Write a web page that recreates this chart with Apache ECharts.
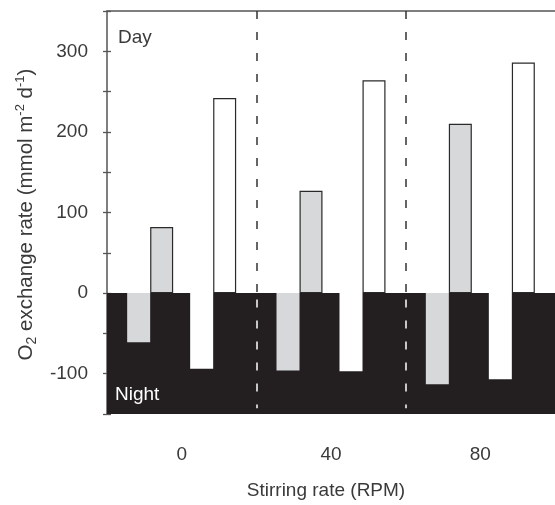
<!DOCTYPE html>
<html>
<head>
<meta charset="utf-8">
<script src="https://cdn.jsdelivr.net/npm/echarts@6/dist/echarts.min.js"></script>
<style>
  html, body { margin: 0; padding: 0; background: #fff; }
  #chart { width: 555px; height: 505px; }
</style>
</head>
<body>
<div id="chart"></div>
<script>
// stirring rate groups
var categories = ['0', '40', '80'];
// O2 exchange, grey = one treatment, white = other; night is negative
var grayNight = [-61, -96, -113];
var grayDay = [82, 127, 210];
var whiteNight = [-94, -97, -107];
var whiteDay = [242, 264, 286];
var yLabels = [300, 200, 100, 0, -100];
// boundaries between the groups (on the helper 0..3 axis)
var dividers = [1, 2];

var font = 'Liberation Sans';
var textColor = '#3a3a3a';
var axisColor = '#555';
var black = '#231f20';
var gray = '#d7d8d9';

var dashLines = [];
dividers.forEach(function (d) {
  dashLines.push([
    { coord: [d, 350], lineStyle: { color: '#333' } },
    { coord: [d, 0] }
  ]);
  dashLines.push([
    { coord: [d, -8], lineStyle: { color: '#fff' } },
    { coord: [d, -143] }
  ]);
});

function barSeries(name, data, fill, border) {
  return {
    name: name,
    type: 'bar',
    xAxisIndex: 0,
    yAxisIndex: 0,
    barWidth: 23,
    barGap: 0,
    z: 3,
    itemStyle: {
      color: fill,
      borderColor: '#2a2a2a',
      borderWidth: border
    },
    data: data
  };
}

var yCommon = {
  type: 'value',
  min: -150,
  max: 350,
  interval: 50,
  splitLine: { show: false }
};

var option = {
  animation: false,
  backgroundColor: '#fff',
  grid: { left: 107, right: -2, top: 11, bottom: 88 },
  xAxis: [
    {
      type: 'category',
      data: categories,
      position: 'bottom',
      axisLine: { show: false },
      axisTick: { show: false },
      axisLabel: { color: textColor, fontSize: 19, fontFamily: font, margin: 31 },
      name: 'Stirring rate (RPM)',
      nameLocation: 'middle',
      nameGap: 67,
      nameTextStyle: { color: textColor, fontSize: 19, fontFamily: font, padding: [0, 10, 0, 0] }
    },
    {
      // helper axis for the dividers + top frame line
      type: 'value',
      min: 0,
      max: 3,
      position: 'top',
      axisLine: { show: true, onZero: false, lineStyle: { color: axisColor, width: 1.5 } },
      axisTick: { show: false },
      axisLabel: { show: false },
      splitLine: { show: false }
    }
  ],
  yAxis: [
    Object.assign({}, yCommon, {
      position: 'left',
      axisLine: { show: true, onZero: false, lineStyle: { color: axisColor, width: 1.5 } },
      axisTick: { show: true, inside: false, length: 4, lineStyle: { color: axisColor, width: 1.3 } },
      axisLabel: {
        color: textColor,
        fontSize: 19,
        fontFamily: font,
        margin: 19,
        formatter: function (v) {
          return yLabels.indexOf(v) >= 0 ? String(v) : '';
        }
      },
      name: '{a|O}{s|2}{a| exchange rate (mmol m}{p|-2}{a| d}{p|-1}{a|)}',
      nameLocation: 'middle',
      nameRotate: 90,
      nameGap: 68,
      nameTextStyle: {
        color: textColor,
        fontFamily: font,
        padding: [0, 4, 0, 0],
        rich: {
          a: { fontSize: 20.5, lineHeight: 25, color: textColor, fontFamily: font },
          s: { fontSize: 14, lineHeight: 14, color: textColor, fontFamily: font, verticalAlign: 'bottom' },
          p: { fontSize: 13, lineHeight: 13, color: textColor, fontFamily: font, verticalAlign: 'top' }
        }
      }
    }),
    Object.assign({}, yCommon, {
      position: 'left',
      axisLine: { show: false },
      axisTick: { show: true, inside: true, length: 4, lineStyle: { color: axisColor, width: 1.3 } },
      axisLabel: { show: false }
    })
  ],
  graphic: [
    {
      type: 'text',
      left: 118,
      top: 28,
      style: { text: 'Day', fill: textColor, fontSize: 19, fontFamily: font }
    },
    {
      type: 'text',
      left: 115,
      top: 385,
      z: 20,
      style: { text: 'Night', fill: '#fff', fontSize: 19, fontFamily: font }
    }
  ],
  series: [
    {
      name: 'frame',
      type: 'line',
      xAxisIndex: 1,
      yAxisIndex: 0,
      data: [],
      silent: true,
      markArea: {
        silent: true,
        itemStyle: { color: black },
        data: [[{ coord: [0, 0] }, { coord: [3, -150] }]]
      },
      markLine: {
        silent: true,
        symbol: ['none', 'none'],
        label: { show: false },
        lineStyle: { type: [8, 13], width: 1.5 },
        data: dashLines
      }
    },
    barSeries('grey night', grayNight, gray, 0),
    barSeries('grey day', grayDay, gray, 1.2),
    {
      name: 'gap',
      type: 'bar',
      barWidth: 17,
      barGap: 0,
      data: ['-', '-', '-']
    },
    barSeries('white night', whiteNight, '#fff', 0),
    barSeries('white day', whiteDay, '#fff', 1.2)
  ]
};

var chart = echarts.init(document.getElementById('chart'));
chart.setOption(option);
</script>
</body>
</html>
